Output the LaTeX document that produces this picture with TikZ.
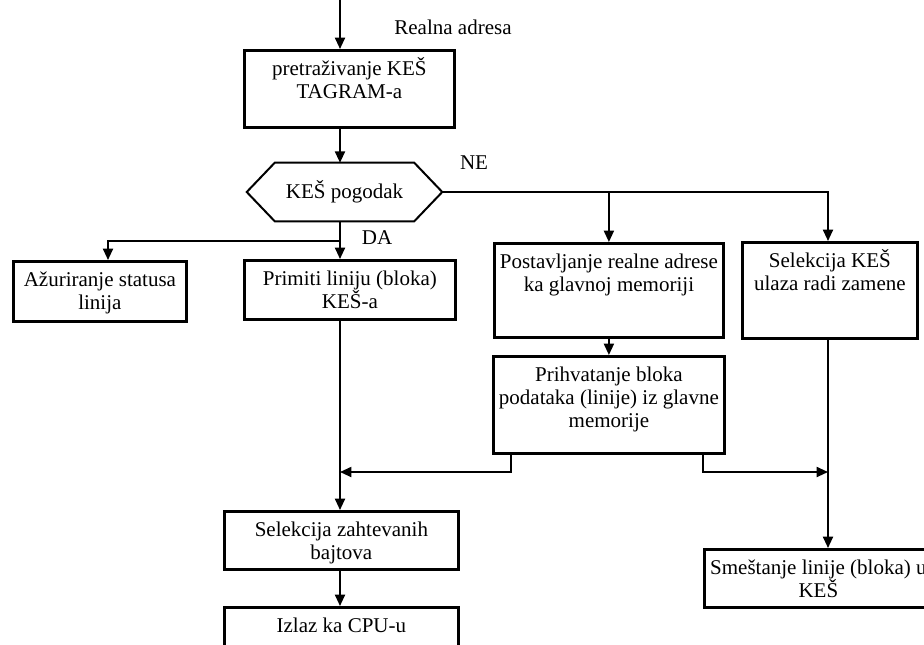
\documentclass[tikz,border=0pt]{standalone}
\usepackage{fontspec}
\setmainfont{Liberation Serif}
\usetikzlibrary{arrows.meta,calc}

\begin{document}
\begin{tikzpicture}[x=0.75pt,y=-0.75pt,
  txt/.style={font=\fontsize{15.75pt}{17.4pt}\selectfont},
  blk/.style={txt, draw, line width=2.1pt, anchor=north west,
    inner xsep=0pt, inner ysep=0pt, align=flush center, text height=18.5pt},
  conn/.style={line width=1.4pt},
  arr/.style={conn, -{Triangle[length=8.5pt,width=7.5pt]}},
  lbl/.style={txt, inner sep=0pt}
]
\useasboundingbox (0,0) rectangle (924,644);
\clip (0,0) rectangle (924,644);

% process boxes
\node[blk, text width=157.5pt,  text depth=39.25pt] (b1)   at (243,49)  {pretraživanje KEŠ\\TAGRAM-a};
\node[blk, text width=129.75pt, text depth=26.5pt]  (azu)  at (12,260)  {Ažuriranje statusa\\linija};
\node[blk, text width=158.25pt, text depth=25.75pt] (prim) at (243,259) {Primiti liniju (bloka)\\KEŠ-a};
\node[blk, text width=171.75pt, text depth=52pt]    (post) at (493,242) {Postavljanje realne adrese\\ka glavnoj memoriji};
\node[blk, text width=131.25pt, text depth=53.5pt]  (selk) at (741,241) {Selekcija KEŠ\\ulaza radi zamene};
\node[blk, text width=173.25pt, text depth=54.25pt] (prih) at (492,355) {Prihvatanje bloka\\podataka (linije) iz glavne\\memorije};
\node[blk, text width=175.5pt,  text depth=25pt]    (selz) at (223,510) {Selekcija zahtevanih\\bajtova};
\node[blk, text width=175.5pt,  text depth=22pt]    (izl)  at (223,606) {Izlaz ka CPU-u};
\node[blk, text width=171pt,    text depth=25pt]    (smes) at (703,548) {Smeštanje linije (bloka) u\\KEŠ};

% decision
\node[txt, inner sep=0pt, minimum width=146.25pt, minimum height=43.5pt] (hex) at (344.5,192) {KEŠ pogodak};
\draw[line width=1.5pt] (hex.west) -- ($(hex.north west)+(28,0)$) -- ($(hex.north east)+(-28,0)$)
  -- (hex.east) -- ($(hex.south east)+(-28,0)$) -- ($(hex.south west)+(28,0)$) -- cycle;

% labels
\node[lbl] (ra) at (453,27)  {Realna adresa};
\node[lbl] (ne) at (474,163) {NE};
\node[lbl] (da) at (377,238) {DA};

% junction points
\coordinate (top) at (340,0);
\coordinate (yes) at (340,241);
\coordinate (yl)  at (108,241);
\coordinate (no)  at (828,192);
\coordinate (pl)  at (511,472);
\coordinate (pr)  at (703,472);

% connectors
\draw[arr] (top) -- (top |- b1.north);
\draw[arr] (top |- b1.south) -- (top |- hex.north);
\draw[arr] (top |- hex.south) -- (top |- prim.north);
\draw[arr] (yes) -- (yl) -- (yl |- azu.north);
\draw[arr] (hex.east) -- (no) -- (no |- selk.north);
\draw[arr] (post.north |- no) -- (post.north);
\draw[arr] (post.south) -- (prih.north -| post.south);
\draw[arr] (top |- prim.south) -- (top |- selz.north);
\draw[arr] (pl |- prih.south) -- (pl) -- (pl -| top);
\draw[arr] (pr |- prih.south) -- (pr) -- (pr -| no);
\draw[arr] (no |- selk.south) -- (no |- smes.north);
\draw[arr] (top |- selz.south) -- (top |- izl.north);
\end{tikzpicture}
\end{document}
